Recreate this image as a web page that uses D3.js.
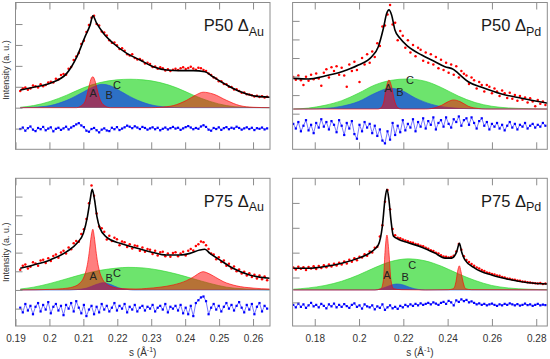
<!DOCTYPE html>
<html><head><meta charset="utf-8">
<script src="https://cdn.jsdelivr.net/npm/d3@7"></script>
<style>body{margin:0;background:#fff}svg{display:block}text{font-family:"Liberation Sans",Arial,sans-serif}</style>
</head><body>
<script>
// ---------- x ticks / domains ----------
const leftXDomain = [0.19, 0.265];
const rightXDomain = [0.17, 0.285];
const leftXTicks = [0.19, 0.2, 0.21, 0.22, 0.23, 0.24, 0.25, 0.26];
const rightXTicks = [0.18, 0.2, 0.22, 0.24, 0.26, 0.28];

// ---------- sampling grids of measured points ----------
const auS0 = 0.1914, auDS = 0.00075;   // Au panels
const pdS0 = 0.1703, pdDS = 0.00115;   // Pd panels

// ---------- P50 Au (top-left) ----------
const tlYDomain = [-1.99, 5.03];
const tlYTicks = [-1, 0, 1, 2, 3, 4];
const tlFit = [[0.1914,0.84],[0.1953,0.98],[0.2002,1.17],[0.2051,1.64],[0.2081,2.44],[0.2105,3.40],[0.2120,3.96],[0.2128,4.39],[0.2139,4.04],[0.2159,3.56],[0.2188,3.08],[0.2228,2.60],[0.2267,2.28],[0.2306,1.96],[0.2345,1.80],[0.2384,1.77],[0.2424,1.77],[0.2458,1.72],[0.2482,1.48],[0.2522,1.09],[0.2561,0.77],[0.2600,0.57],[0.2649,0.50]];
const tlData = [0.80,0.93,0.97,0.86,0.92,1.06,1.02,0.96,1.12,1.03,1.08,1.21,1.24,1.20,1.38,1.35,1.56,1.61,1.58,1.86,1.94,2.28,2.45,2.62,3.05,3.20,3.62,3.95,4.30,4.40,4.00,3.93,3.64,3.60,3.45,3.22,3.10,3.12,2.98,2.81,2.84,2.72,2.55,2.49,2.55,2.38,2.30,2.33,2.26,2.11,2.15,2.09,1.94,1.97,1.86,1.93,1.89,1.78,1.84,1.76,1.81,1.86,1.80,1.88,1.93,1.85,1.90,1.96,1.87,1.82,1.91,1.88,1.80,1.75,1.63,1.56,1.44,1.40,1.27,1.26,1.13,1.12,1.00,0.99,0.87,0.88,0.80,0.71,0.73,0.64,0.63,0.60,0.53,0.57,0.51,0.55,0.49,0.52];
const tlResid = [-1.02,-0.95,-1.10,-0.98,-0.90,-1.05,-1.12,-0.97,-1.03,-0.92,-1.08,-1.00,-0.94,-1.13,-1.01,-0.96,-1.06,-0.99,-0.91,-1.04,-0.95,-0.88,-0.80,-0.74,-0.85,-0.93,-1.10,-1.15,-1.02,-0.97,-1.08,-1.18,-1.05,-0.99,-1.09,-1.12,-0.96,-1.03,-0.93,-1.07,-1.00,-0.94,-0.86,-0.91,-0.98,-0.89,-0.95,-1.02,-0.92,-0.97,-1.05,-0.99,-0.94,-1.03,-0.96,-1.08,-1.01,-0.95,-1.04,-0.98,-0.92,-1.00,-0.96,-1.06,-0.99,-0.93,-0.88,-0.95,-1.03,-0.97,-1.01,-0.90,-0.84,-0.92,-1.05,-1.10,-0.97,-1.02,-0.94,-1.06,-0.98,-0.93,-1.03,-0.96,-1.00,-0.91,-0.97,-1.05,-0.99,-0.94,-1.02,-0.96,-1.07,-0.98,-1.01,-0.95,-1.04,-0.99];
const tlCompA = [[0.1914,0],[0.2080,0],[0.2090,0.05],[0.2105,0.3],[0.2115,0.9],[0.2122,1.35],[0.2128,1.48],[0.2134,1.3],[0.2141,0.85],[0.2149,0.4],[0.2164,0.08],[0.2180,0],[0.2300,0],[0.2326,0.02],[0.2365,0.1],[0.2404,0.35],[0.2433,0.62],[0.2453,0.74],[0.2483,0.65],[0.2522,0.35],[0.2561,0.1],[0.2600,0.02],[0.2649,0]];
const tlCompB = [[0.1914,0],[0.1953,0.02],[0.2002,0.1],[0.2051,0.35],[0.2100,0.75],[0.2130,1.0],[0.2154,1.12],[0.2179,1.05],[0.2208,0.8],[0.2247,0.45],[0.2296,0.15],[0.2345,0.03],[0.2394,0],[0.2649,0]];
const tlCompC = [[0.1914,0.02],[0.1953,0.1],[0.2002,0.3],[0.2051,0.6],[0.2100,0.95],[0.2149,1.2],[0.2198,1.33],[0.2237,1.36],[0.2277,1.33],[0.2326,1.2],[0.2375,0.95],[0.2424,0.6],[0.2473,0.3],[0.2522,0.1],[0.2571,0.02],[0.2649,0]];
const tlLabels = [["A",0.2129,0.70],["B",0.2176,0.61],["C",0.2199,1.09]];

// ---------- P50 Pd (top-right) ----------
const trYDomain = [-2.17, 5.74];
const trYTicks = [-0.25, 0.75, 1.75, 2.75, 3.75, 4.75];
const trFit = [[0.1703,1.65],[0.1771,1.62],[0.1846,1.78],[0.1922,2.01],[0.1997,2.37],[0.2057,2.82],[0.2087,3.36],[0.2110,4.35],[0.2125,5.16],[0.2135,5.34],[0.2147,5.07],[0.2162,4.26],[0.2185,3.81],[0.2222,3.36],[0.2283,2.91],[0.2343,2.55],[0.2388,2.28],[0.2426,2.14],[0.2448,1.92],[0.2493,1.47],[0.2554,1.17],[0.2644,0.81],[0.2734,0.58],[0.2854,0.31]];
const trData = [1.72,1.58,1.80,1.55,1.30,1.74,1.52,1.85,1.60,1.92,1.64,1.25,1.95,2.15,1.70,2.25,2.05,2.30,1.85,2.22,1.80,1.20,2.40,2.05,2.55,2.10,1.45,2.75,2.40,2.95,2.50,3.10,2.80,3.55,3.40,4.45,4.50,5.10,5.60,4.55,4.65,3.70,4.20,3.95,3.30,3.70,3.05,3.45,2.85,3.30,3.20,2.60,3.05,2.50,2.95,2.40,2.80,2.20,2.65,2.10,2.50,1.95,2.40,1.85,2.30,1.70,2.05,1.90,1.80,1.35,1.70,1.55,1.10,1.45,1.30,0.95,1.30,1.20,0.85,1.10,0.95,0.70,1.00,0.85,0.60,0.88,0.55,0.75,0.45,0.70,0.50,0.62,0.35,0.58,0.40,0.15,0.48,0.28,0.40,0.22];
const trResid = [-0.80,-1.05,-0.70,-1.20,-0.90,-0.60,-1.15,-0.85,-1.30,-0.75,-1.00,-0.55,-0.95,-0.70,-1.10,-0.65,-0.85,-1.25,-0.60,-0.90,-1.40,-0.75,-1.05,-0.65,-1.35,-1.60,-0.85,-1.20,-0.70,-1.00,-0.80,-1.30,-0.90,-1.45,-1.10,-1.70,-1.85,-1.20,-1.65,-0.75,-1.40,-0.90,-1.25,-0.60,-1.15,-0.80,-1.00,-0.55,-1.20,-0.70,-0.95,-0.50,-1.05,-0.65,-0.85,-0.45,-1.10,-0.75,-0.60,-0.95,-0.45,-0.80,-1.00,-0.55,-0.70,-0.40,-0.90,-0.60,-0.50,-0.85,-0.45,-0.75,-1.05,-0.65,-0.50,-0.90,-0.70,-1.10,-0.80,-0.95,-0.75,-1.05,-0.85,-1.15,-0.90,-0.70,-1.00,-0.80,-1.10,-0.85,-0.95,-0.75,-1.05,-0.90,-0.80,-1.00,-0.85,-0.95,-0.75,-0.90];
const trCompA = [[0.1703,0],[0.2085,0],[0.2095,0.03],[0.2110,0.3],[0.2122,1.1],[0.2135,1.56],[0.2147,1.2],[0.2159,0.5],[0.2174,0.08],[0.2190,0],[0.2300,0],[0.2328,0.03],[0.2373,0.2],[0.2403,0.4],[0.2426,0.49],[0.2456,0.4],[0.2493,0.15],[0.2539,0.03],[0.2570,0],[0.2855,0]];
const trCompB = [[0.1703,0],[0.1771,0],[0.1846,0.03],[0.1922,0.15],[0.1997,0.4],[0.2072,0.85],[0.2140,1.12],[0.2192,1.0],[0.2253,0.6],[0.2328,0.25],[0.2403,0.08],[0.2493,0.02],[0.2599,0],[0.2855,0]];
const trCompC = [[0.1703,0],[0.1771,0.05],[0.1846,0.2],[0.1922,0.45],[0.1997,0.85],[0.2072,1.3],[0.2147,1.55],[0.2215,1.62],[0.2298,1.5],[0.2373,1.15],[0.2448,0.7],[0.2524,0.35],[0.2599,0.15],[0.2674,0.06],[0.2764,0.02],[0.2855,0]];
const trLabels = [["A",0.2131,1.13],["B",0.2185,0.92],["C",0.2230,1.56]];

// ---------- P75 Au (bottom-left) ----------
const blYDomain = [-1.93, 5.98];
const blYTicks = [-1, 0, 1, 2, 3, 4, 5];
const blFit = [[0.1914,1.16],[0.1953,1.34],[0.2002,1.61],[0.2051,2.05],[0.2081,2.50],[0.2100,3.04],[0.2112,3.93],[0.2120,4.82],[0.2126,5.39],[0.2133,4.82],[0.2140,3.93],[0.2149,3.30],[0.2169,2.82],[0.2208,2.50],[0.2247,2.29],[0.2296,2.05],[0.2345,1.87],[0.2384,1.87],[0.2414,1.96],[0.2443,2.14],[0.2458,2.18],[0.2473,1.96],[0.2502,1.61],[0.2541,1.16],[0.2590,0.80],[0.2649,0.63]];
const blData = [1.08,1.30,1.36,1.15,1.24,1.48,1.42,1.30,1.58,1.62,1.44,1.70,1.55,1.82,1.90,1.72,2.00,2.10,1.95,2.28,2.18,2.50,2.62,2.58,3.00,3.25,3.80,4.65,5.60,5.05,4.10,3.40,3.30,3.12,2.70,2.90,2.62,2.80,2.72,2.40,2.60,2.55,2.30,2.45,2.22,2.38,2.35,2.10,2.28,2.05,2.20,2.15,1.92,2.10,1.85,2.02,2.05,1.80,1.95,1.78,1.98,2.02,1.80,1.95,2.05,1.85,2.10,2.20,2.12,2.35,2.45,2.60,2.55,2.40,2.20,1.95,1.90,1.65,1.75,1.50,1.58,1.30,1.40,1.15,1.25,1.00,1.10,0.88,0.98,0.78,0.90,0.70,0.82,0.62,0.78,0.58,0.72,0.52];
const blResid = [-0.95,-1.20,-0.75,-1.10,-0.85,-1.30,-0.90,-0.70,-1.15,-0.80,-1.05,-0.65,-1.25,-0.90,-0.75,-1.10,-0.85,-1.35,-0.80,-1.00,-0.70,-1.15,-0.60,-0.95,-1.25,-0.80,-1.40,-1.05,-0.85,-1.30,-0.90,-1.20,-0.75,-1.05,-0.85,-1.15,-0.95,-0.70,-1.10,-0.85,-1.00,-0.75,-1.20,-0.90,-1.05,-0.80,-1.15,-0.95,-0.85,-1.10,-0.90,-1.00,-0.80,-1.15,-0.95,-0.85,-1.05,-0.75,-1.20,-0.90,-1.00,-0.85,-1.10,-0.80,-1.25,-0.95,-1.30,-0.85,-1.40,-0.70,-0.55,-0.40,-0.35,-0.60,-1.30,-0.95,-0.75,-1.05,-0.85,-1.15,-0.90,-0.70,-1.00,-0.80,-1.10,-0.85,-0.65,-0.95,-1.20,-0.80,-1.05,-0.75,-1.30,-0.90,-0.70,-1.15,-0.85,-1.00];
const blCompA = [[0.1914,0],[0.1960,0.01],[0.2000,0.03],[0.2039,0.07],[0.2069,0.16],[0.2088,0.34],[0.2098,0.56],[0.2108,1.04],[0.2113,1.48],[0.2118,2.12],[0.2123,2.87],[0.2128,3.25],[0.2132,2.87],[0.2137,2.12],[0.2142,1.48],[0.2147,1.04],[0.2157,0.56],[0.2167,0.34],[0.2186,0.16],[0.2216,0.07],[0.2255,0.05],[0.2286,0.08],[0.2326,0.15],[0.2365,0.27],[0.2404,0.5],[0.2429,0.75],[0.2443,0.92],[0.2453,0.98],[0.2463,0.93],[0.2483,0.75],[0.2512,0.45],[0.2551,0.22],[0.2600,0.1],[0.2649,0.05]];
const blCompB = [[0.1914,0],[0.2060,0],[0.2080,0.02],[0.2110,0.1],[0.2139,0.3],[0.2159,0.39],[0.2179,0.3],[0.2203,0.12],[0.2228,0.03],[0.2247,0],[0.2649,0]];
const blCompC = [[0.1914,0.05],[0.1953,0.15],[0.2002,0.35],[0.2051,0.6],[0.2100,0.85],[0.2149,1.05],[0.2198,1.17],[0.2232,1.21],[0.2277,1.18],[0.2326,1.05],[0.2375,0.85],[0.2424,0.6],[0.2473,0.35],[0.2522,0.15],[0.2571,0.06],[0.2649,0.01]];
const blLabels = [["A",0.2129,0.75],["B",0.2176,0.63],["C",0.2199,0.89]];

// ---------- P75 Pd (bottom-right) ----------
const brYDomain = [-1.45, 4.49];
const brYTicks = [-0.5, 0.5, 1.5, 2.5, 3.5];
const brFit = [[0.1703,0.87],[0.1771,0.87],[0.1846,0.94],[0.1922,1.07],[0.1997,1.28],[0.2057,1.54],[0.2087,1.81],[0.2105,2.55],[0.2117,3.62],[0.2126,4.05],[0.2135,3.62],[0.2144,2.82],[0.2155,2.17],[0.2177,2.04],[0.2222,1.90],[0.2283,1.72],[0.2343,1.48],[0.2388,1.28],[0.2418,1.28],[0.2441,1.54],[0.2453,1.88],[0.2463,1.54],[0.2478,1.21],[0.2524,0.87],[0.2599,0.60],[0.2674,0.43],[0.2764,0.29],[0.2854,0.24]];
const brData = [0.90,0.82,0.93,0.85,0.91,0.80,0.92,0.86,0.95,0.84,0.96,0.88,0.99,0.91,1.02,0.94,1.05,0.98,1.09,1.02,1.14,1.06,1.21,1.13,1.27,1.19,1.34,1.30,1.44,1.38,1.55,1.51,1.70,1.74,2.15,2.60,3.55,4.02,3.25,2.45,2.20,2.10,2.08,2.03,1.99,1.96,1.92,1.90,1.85,1.83,1.78,1.76,1.70,1.66,1.60,1.57,1.50,1.47,1.40,1.35,1.33,1.30,1.32,1.38,1.55,1.85,1.62,1.36,1.20,1.12,1.04,0.97,0.90,0.86,0.80,0.76,0.70,0.68,0.64,0.62,0.58,0.57,0.52,0.50,0.46,0.45,0.42,0.41,0.38,0.37,0.34,0.33,0.31,0.30,0.28,0.27,0.26,0.28,0.24,0.26];
const brResid = [-0.60,-0.70,-0.55,-0.68,-0.58,-0.72,-0.62,-0.52,-0.66,-0.60,-0.70,-0.56,-0.64,-0.74,-0.58,-0.66,-0.55,-0.70,-0.60,-0.68,-0.57,-0.65,-0.72,-0.60,-0.54,-0.68,-0.62,-0.75,-0.58,-0.66,-0.70,-0.62,-0.78,-0.66,-0.72,-0.58,-0.80,-0.70,-0.62,-0.74,-0.68,-0.76,-0.64,-0.70,-0.60,-0.66,-0.58,-0.64,-0.56,-0.62,-0.54,-0.60,-0.56,-0.52,-0.58,-0.50,-0.55,-0.60,-0.52,-0.48,-0.56,-0.44,-0.50,-0.62,-0.42,-0.48,-0.38,-0.45,-0.40,-0.50,-0.46,-0.52,-0.58,-0.54,-0.60,-0.56,-0.62,-0.58,-0.55,-0.60,-0.64,-0.58,-0.62,-0.56,-0.60,-0.54,-0.58,-0.62,-0.57,-0.63,-0.60,-0.55,-0.61,-0.58,-0.64,-0.60,-0.56,-0.62,-0.59,-0.61];
const brCompA = [[0.1703,0],[0.2072,0],[0.2099,0.05],[0.2110,0.4],[0.2117,1.5],[0.2126,2.21],[0.2135,1.5],[0.2144,0.4],[0.2156,0.05],[0.2192,0.01],[0.2300,0],[0.2403,0.01],[0.2426,0.05],[0.2438,0.35],[0.2445,0.75],[0.2453,0.97],[0.2460,0.75],[0.2469,0.35],[0.2481,0.05],[0.2508,0.01],[0.2855,0]];
const brCompB = [[0.1703,0],[0.2072,0],[0.2117,0.1],[0.2147,0.2],[0.2170,0.24],[0.2200,0.2],[0.2230,0.1],[0.2268,0.02],[0.2298,0],[0.2855,0]];
const brCompC = [[0.1703,0.03],[0.1771,0.08],[0.1846,0.18],[0.1922,0.35],[0.1997,0.6],[0.2072,0.9],[0.2147,1.15],[0.2222,1.25],[0.2298,1.17],[0.2373,0.95],[0.2448,0.65],[0.2524,0.38],[0.2599,0.18],[0.2674,0.08],[0.2764,0.03],[0.2855,0.01]];
const brLabels = [["A",0.2126,0.60],["B",0.2208,0.52],["C",0.2240,1.00]];

// ---------- panel texts ----------
const panelTitles = [["P50 Δ","Au"],["P50 Δ","Pd"],["P75 Δ","Au"],["P75 Δ","Pd"]];
const yLabel = "Intensity (a. u.)";

// ---------- build ----------
const W = 550, H = 359;
const svg = d3.select("body").append("svg").attr("width", W).attr("height", H);

const panels = [
  {box:[15.5,270,2.5,149.3], xd:leftXDomain, xt:leftXTicks, yd:tlYDomain, yt:tlYTicks, fit:tlFit, data:tlData, res:tlResid, s0:auS0, ds:auDS, A:tlCompA, B:tlCompB, C:tlCompC, lab:tlLabels, title:panelTitles[0], xlab:false, ylab:true},
  {box:[292.6,547.3,2.5,149.3], xd:rightXDomain, xt:rightXTicks, yd:trYDomain, yt:trYTicks, fit:trFit, data:trData, res:trResid, s0:pdS0, ds:pdDS, A:trCompA, B:trCompB, C:trCompC, lab:trLabels, title:panelTitles[1], xlab:false, ylab:false},
  {box:[15.5,270,178.3,326], xd:leftXDomain, xt:leftXTicks, yd:blYDomain, yt:blYTicks, fit:blFit, data:blData, res:blResid, s0:auS0, ds:auDS, A:blCompA, B:blCompB, C:blCompC, lab:blLabels, title:panelTitles[2], xlab:true, ylab:true},
  {box:[292.6,547.3,178.3,326], xd:rightXDomain, xt:rightXTicks, yd:brYDomain, yt:brYTicks, fit:brFit, data:brData, res:brResid, s0:pdS0, ds:pdDS, A:brCompA, B:brCompB, C:brCompC, lab:brLabels, title:panelTitles[3], xlab:true, ylab:false}
];

const fmt = v => String(+v.toFixed(2));

panels.forEach(p => {
  const [x0, x1, y0, y1] = p.box;
  const x = d3.scaleLinear().domain(p.xd).range([x0, x1]);
  const y = d3.scaleLinear().domain(p.yd).range([y1, y0]);
  const clipId = "clip" + Math.round(x0) + "_" + Math.round(y0);
  svg.append("clipPath").attr("id", clipId).append("rect")
    .attr("x", x0).attr("y", y0).attr("width", x1 - x0).attr("height", y1 - y0);
  const g = svg.append("g").attr("clip-path", `url(#${clipId})`);

  const area = d3.area().curve(d3.curveMonotoneX)
    .x(d => x(d[0])).y0(y(0)).y1(d => y(d[1]));
  const lineC = d3.line().curve(d3.curveMonotoneX).x(d => x(d[0])).y(d => y(d[1]));

  // components
  [[p.C, "#2fd82f", 0.7], [p.B, "#1f57d8", 0.82], [p.A, "#ff0000", 0.5]].forEach(([arr, col, op]) => {
    g.append("path").attr("d", area(arr)).attr("fill", col).attr("fill-opacity", op).attr("stroke", "none");
    g.append("path").attr("d", lineC(arr)).attr("fill", "none").attr("stroke", col).attr("stroke-opacity", 0.8).attr("stroke-width", 0.8);
  });

  // residuals
  const resPts = p.res.map((v, i) => [p.s0 + i * p.ds, v]);
  g.append("path").attr("d", d3.line().x(d => x(d[0])).y(d => y(d[1]))(resPts))
    .attr("fill", "none").attr("stroke", "#1a1aff").attr("stroke-width", 0.6);
  g.selectAll(null).data(resPts).join("rect")
    .attr("x", d => x(d[0]) - 1.1).attr("y", d => y(d[1]) - 1.1)
    .attr("width", 2.2).attr("height", 2.2).attr("fill", "#0000ff");

  // measured points
  const dataPts = p.data.map((v, i) => [p.s0 + i * p.ds, v]);
  g.selectAll(null).data(dataPts).join("circle")
    .attr("cx", d => x(d[0])).attr("cy", d => y(d[1])).attr("r", 1.25).attr("fill", "#ff0000");

  // fit
  g.append("path").attr("d", lineC(p.fit)).attr("fill", "none").attr("stroke", "#000").attr("stroke-width", 1.6);

  // component labels
  g.selectAll(null).data(p.lab).join("text")
    .attr("x", d => x(d[1])).attr("y", d => y(d[2]))
    .attr("text-anchor", "middle").attr("dominant-baseline", "central")
    .attr("font-size", 11).attr("fill", "#222").text(d => d[0]);

  // frame and axes
  const ax = svg.append("g");
  ax.append("rect").attr("x", x0).attr("y", y0).attr("width", x1 - x0).attr("height", y1 - y0)
    .attr("fill", "none").attr("stroke", "#8c8c8c").attr("stroke-width", 1);
  const bottom = ax.append("g").attr("transform", `translate(0,${y1})`)
    .call(d3.axisBottom(x).tickValues(p.xt).tickSize(-7).tickPadding(9).tickFormat(p.xlab ? fmt : ""));
  const top = ax.append("g").attr("transform", `translate(0,${y0})`)
    .call(d3.axisTop(x).tickValues(p.xt).tickSize(-7).tickFormat(""));
  const left = ax.append("g").attr("transform", `translate(${x0},0)`)
    .call(d3.axisLeft(y).tickValues(p.yt).tickSize(-7).tickFormat(""));
  [bottom, top, left].forEach(a => {
    a.select(".domain").remove();
    a.selectAll(".tick line").attr("stroke", "#8c8c8c");
    a.selectAll("text").attr("font-size", 10).attr("fill", "#333").attr("font-family", '"Liberation Sans",Arial,sans-serif');
  });

  // title
  const t = svg.append("text").attr("x", x1 - 6).attr("y", y0 + 28.5).attr("text-anchor", "end")
    .attr("font-size", 16.5).attr("fill", "#1a1a1a");
  t.append("tspan").text(p.title[0]);
  t.append("tspan").attr("font-size", 12.5).attr("dy", 4.5).text(p.title[1]);

  if (p.xlab) {
    const xl = svg.append("text").attr("x", (x0 + x1) / 2).attr("y", 356).attr("text-anchor", "middle")
      .attr("font-size", 10).attr("fill", "#333");
    xl.append("tspan").text("s (Å");
    xl.append("tspan").attr("font-size", 7).attr("dy", -4).text("-1");
    xl.append("tspan").attr("dy", 4).text(")");
  }
  if (p.ylab) {
    svg.append("text").attr("transform", `translate(9,${(y0 + y1) / 2 - (y0 < 10 ? 6 : 0)}) rotate(-90)`)
      .attr("text-anchor", "middle").attr("font-size", 9).attr("fill", "#333").text(yLabel);
  }
});
</script>
</body></html>
